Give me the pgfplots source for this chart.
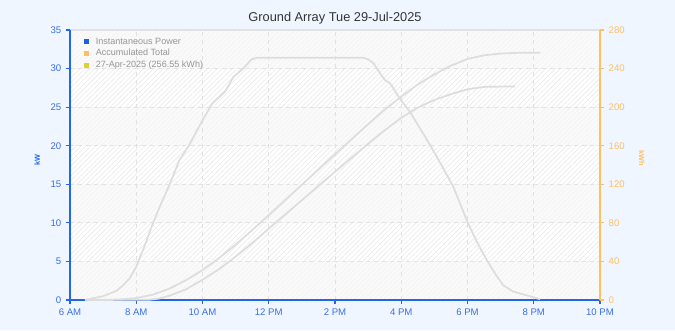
\documentclass[border=0pt]{standalone}
\usepackage{pgfplots}
\pgfplotsset{compat=1.18}
\usepackage{fontspec}
\setmainfont{Liberation Sans}
\usetikzlibrary{patterns.meta}
\definecolor{pagebg}{RGB}{240,246,255}
\definecolor{axblue}{RGB}{34,102,238}
\definecolor{tkblue}{RGB}{60,110,225}
\definecolor{axorange}{RGB}{255,192,96}
\definecolor{gridcol}{RGB}{226,226,226}
\definecolor{curve}{RGB}{221,221,221}
\definecolor{plainbg}{RGB}{250,250,250}
\definecolor{hatchA}{RGB}{234,234,234}
\definecolor{hatchB}{RGB}{243,243,243}
\definecolor{legblue}{RGB}{31,95,224}
\definecolor{legorange}{RGB}{255,190,100}
\definecolor{legyellow}{RGB}{224,208,48}
\definecolor{legtext}{RGB}{150,150,150}
\definecolor{titlecol}{RGB}{51,51,51}
\begin{document}
\begin{tikzpicture}
\fill[pagebg] (-52.5pt,-22.5pt) rectangle (453.75pt,225pt);
\useasboundingbox (-52.5pt,-22.5pt) rectangle (453.75pt,225pt);
\fill[plainbg] (0pt,0pt) rectangle (397.5pt,202.5pt);
\fill[pattern={Lines[angle=45,distance=2.6pt,line width=0.45pt]}, pattern color=hatchB] (0pt,0pt) rectangle (397.5pt,202.5pt);
\fill[white] (0pt,28.93pt) rectangle (397.5pt,57.86pt);
\fill[white] (0pt,86.79pt) rectangle (397.5pt,115.71pt);
\fill[white] (0pt,144.64pt) rectangle (397.5pt,173.57pt);
\fill[pattern={Lines[angle=45,distance=2.6pt,line width=0.45pt]}, pattern color=hatchA] (0pt,28.93pt) rectangle (397.5pt,57.86pt);
\fill[pattern={Lines[angle=45,distance=2.6pt,line width=0.45pt]}, pattern color=hatchA] (0pt,86.79pt) rectangle (397.5pt,115.71pt);
\fill[pattern={Lines[angle=45,distance=2.6pt,line width=0.45pt]}, pattern color=hatchA] (0pt,144.64pt) rectangle (397.5pt,173.57pt);
\draw[gridcol, line width=0.8pt] (0pt,202.5pt) -- (397.5pt,202.5pt);
\begin{axis}[
  scale only axis, width=397.5pt, height=202.5pt,
  at={(0pt,0pt)}, anchor=south west,
  xmin=6, xmax=22, ymin=0, ymax=35,
  axis y line*=left, axis x line*=bottom,
  axis line style={axblue, line width=0.8pt},
  xtick={6,8,...,22},
  xticklabels={6 AM,8 AM,10 AM,12 PM,2 PM,4 PM,6 PM,8 PM,10 PM},
  ytick={0,5,...,35},
  tick align=outside, major tick length=3pt,
  tick style={axblue, line width=0.8pt},
  /pgf/number format/assume math mode=true,
  ticklabel style={font=\fontsize{7.2}{8}\selectfont, text=tkblue},
  xmajorgrids, ymajorgrids,
  grid style={gridcol, line width=0.6pt, dash pattern=on 3pt off 3pt},
  title={Ground Array Tue 29-Jul-2025},
  title style={at={(axis description cs:0.5,1)}, anchor=center, yshift=2.5pt, font=\fontsize{9.6}{11}\selectfont, text=titlecol},
  ylabel={kW},
  ylabel style={at={(axis description cs:-0.062,0.52)}, anchor=center, font=\fontsize{5.5}{6}\selectfont\bfseries, text=axblue},
  legend image code/.code={\fill[#1, draw=none] (0pt,-1.9pt) rectangle (3.8pt,1.9pt);},
  legend style={at={(axis description cs:0.026,0.982)}, anchor=north west, draw=none, fill=none,
    font=\fontsize{6.8}{7.5}\selectfont, text=legtext, row sep=-1.6pt, column sep=3pt, inner sep=0pt},
  legend cell align=left,
]
\addplot[curve, line width=1.3pt, forget plot] coordinates {
(6.45,0) (7.0,0.5) (7.41,1.2) (7.6,1.9) (7.8,2.8) (8.0,4.3) (8.25,7.0) (8.5,9.9) (8.75,12.5) (9.0,14.9)
(9.3,18.1) (9.6,20.1) (10.0,23.3) (10.3,25.5) (10.68,27.0) (10.93,28.9) (11.23,30.0) (11.48,31.2) (11.65,31.4)
(14.86,31.4) (15.0,31.2) (15.16,30.7) (15.36,29.4) (15.51,28.5) (15.66,28.1) (15.96,26.1) (16.26,24.4)
(16.66,21.6) (17.07,18.6) (17.57,14.7) (18.02,9.9) (18.3,7.4) (18.58,5.2) (18.85,3.3) (19.08,1.9)
(19.38,1.1) (19.79,0.6) (20.19,0.1)};
\addlegendimage{fill=legblue}
\addlegendentry{Instantaneous Power}
\addlegendimage{fill=legorange}
\addlegendentry{Accumulated Total}
\addlegendimage{fill=legyellow}
\addlegendentry{27-Apr-2025 (256.55 kWh)}
\end{axis}
\begin{axis}[
  scale only axis, width=397.5pt, height=202.5pt,
  at={(0pt,0pt)}, anchor=south west,
  xmin=6, xmax=22, ymin=0, ymax=280,
  axis y line*=right, axis x line=none,
  axis line style={axorange, line width=0.8pt},
  ytick={0,40,...,280},
  tick align=outside, major tick length=3pt,
  tick style={axorange, line width=0.8pt},
  /pgf/number format/assume math mode=true,
  ticklabel style={font=\fontsize{7.2}{8}\selectfont, text=axorange},
  ylabel={kWh},
  ylabel style={at={(axis description cs:1.079,0.526)}, anchor=center, rotate=180, font=\fontsize{5.5}{6}\selectfont\bfseries, text=axorange},
]
\addplot[curve, line width=1.3pt] coordinates {
(6.5,0) (7.5,0.5) (8,2) (8.5,5.5) (9,11.8) (9.5,20.5) (10,31) (10.5,43.5) (11,57.3) (11.5,72.5) (12,88)
(13,119.5) (14,151) (14.86,178) (15.5,197.5) (16,211) (16.5,223.5) (17,234) (17.5,243) (18,250)
(18.5,253.8) (19,255.6) (19.5,256.3) (20.19,256.5)};
\addplot[curve, line width=1.3pt] coordinates {
(6.5,0) (8.4,0.3) (8.7,1.5) (9,4.5) (9.5,11) (10,21) (10.5,32) (11,45) (11.5,59) (12,74) (13,103.5)
(14,133) (15,162) (15.5,176) (16,189) (16.5,199.5) (17,207.5) (17.5,213.5) (18,218.5) (18.5,221)
(19,221.3) (19.43,221.3)};
\end{axis}
\end{tikzpicture}
\end{document}
